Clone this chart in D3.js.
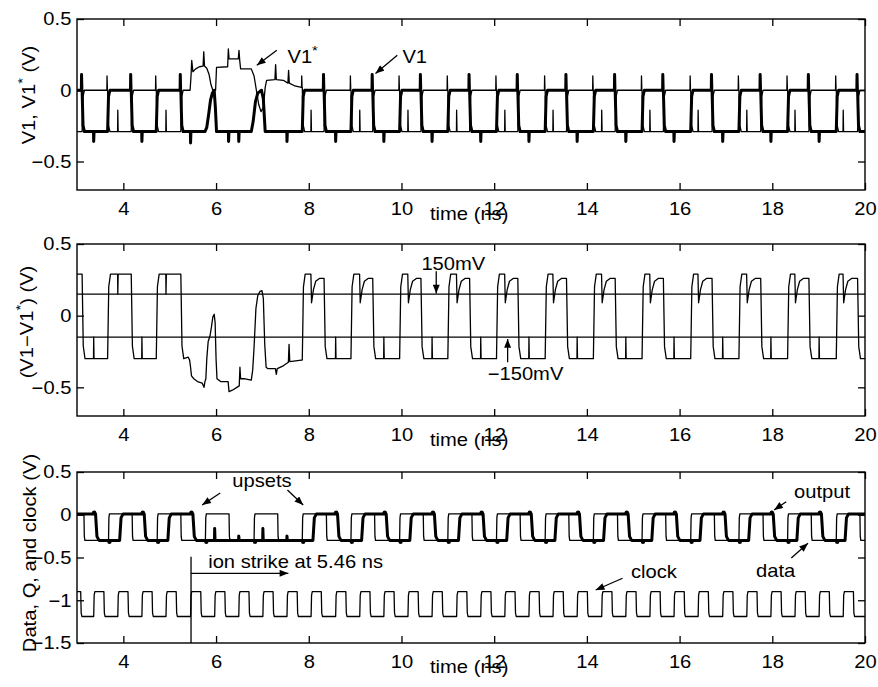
<!DOCTYPE html>
<html lang="en">
<head>
<meta charset="UTF-8">
<title>Ion strike upset waveforms</title>
<script src="https://d3js.org/d3.v7.min.js"></script>
<style>
  body { margin: 0; background: #fff; }
  svg { display: block; font-family: "Liberation Sans", Arial, sans-serif; }
  .frame { fill: none; stroke: #000; stroke-width: 1.4; }
  .tick line { stroke: #000; stroke-width: 1.3; }
  .tick text { font-family: "Liberation Sans", Arial, sans-serif; font-size: 18px; fill: #000; }
  .trace { fill: none; stroke: #000; stroke-linejoin: round; }
  .thin { stroke-width: 1.3; }
  .thick { stroke-width: 3; }
  .note { font-size: 18px; fill: #000; }
  .pointer { stroke: #000; stroke-width: 1.3; }
</style>
</head>
<body>
<svg id="chart" width="878" height="687"></svg>
<script>
// axis ticks
const timeTicks = [4, 6, 8, 10, 12, 14, 16, 18, 20];
const voltTicks = [-0.5, 0, 0.5];
const stackTicks = [-1.5, -1, -0.5, 0, 0.5];
const thresholds = [0.15, -0.15];

// clock edges (ns)
const clockRise = [3.36, 3.88, 4.40, 4.92, 5.45, 5.97, 6.49, 7.01, 7.53, 8.05, 8.58, 9.10, 9.62, 10.14, 10.66, 11.19,
  11.71, 12.23, 12.75, 13.27, 13.79, 14.32, 14.84, 15.36, 15.88, 16.40, 16.93, 17.45, 17.97, 18.49, 19.01, 19.53];
const clockFall = [3.08, 3.58, 4.10, 4.62, 5.14, 5.67, 6.19, 6.71, 7.23, 7.75, 8.27, 8.80, 9.32, 9.84, 10.36, 10.88,
  11.41, 11.93, 12.45, 12.97, 13.49, 14.01, 14.54, 15.06, 15.58, 16.10, 16.62, 17.15, 17.67, 18.19, 18.71, 19.23, 19.75];

// data input edges
const dataRise = [3.68, 4.73, 5.77, 6.82, 7.86, 8.91, 9.96, 11.00, 12.05, 13.10, 14.14, 15.19, 16.24, 17.28, 18.33, 19.38];
const dataFall = [3.15, 4.19, 5.24, 6.28, 7.33, 8.38, 9.42, 10.47, 11.52, 12.56, 13.61, 14.66, 15.70, 16.75, 17.80, 18.84, 19.89];

// output Q edges (stuck low after the strike)
const qRise = [3.92, 4.96, 8.09, 9.14, 10.18, 11.23, 12.27, 13.31, 14.36, 15.40, 16.44, 17.49, 18.53, 19.57];
const qFall = [3.40, 4.45, 5.50, 8.62, 9.67, 10.71, 11.76, 12.80, 13.84, 14.89, 15.93, 16.98, 18.02, 19.06];
const qUpsetSpikes = [[5.97, -0.16], [6.49, -0.25], [7.01, -0.16], [7.53, -0.25]];

// master latch V1 / V1* edges outside the upset
const latchRise = [3.66, 4.71, 7.86, 8.91, 9.96, 11.00, 12.05, 13.10, 14.14, 15.19, 16.24, 17.28, 18.33, 19.38];
const latchFall = [3.11, 4.17, 5.24, 8.33, 9.38, 10.42, 11.47, 12.51, 13.56, 14.61, 15.65, 16.70, 17.75, 18.79, 19.84];
const upsetWindow = [5.3, 7.85];

// waveforms during the upset [t, V]
const v1Upset = [[5.76, -0.29], [5.80, -0.26], [5.84, -0.17], [5.88, -0.07], [5.92, -0.02], [5.96, 0.0], [5.985, -0.12],
  [6.01, -0.29], [6.76, -0.29], [6.80, -0.22], [6.85, -0.08], [6.90, -0.02], [6.98, 0.0], [7.02, -0.06], [7.06, -0.29]];
const v1UpsetSpikes = [[5.45, -0.37], [6.27, -0.36], [6.49, -0.36], [7.53, -0.36]];
const v1sUpset = [[5.44, 0.0], [5.46, 0.10], [5.475, 0.21], [5.50, 0.13], [5.56, 0.15], [5.64, 0.165], [5.72, 0.17],
  [5.735, 0.27], [5.75, 0.17], [5.80, 0.155], [5.85, 0.11], [5.89, 0.04], [5.93, 0.0], [5.99, 0.0], [6.01, 0.16],
  [6.25, 0.165], [6.265, 0.29], [6.28, 0.22], [6.48, 0.22], [6.495, 0.28], [6.51, 0.21], [6.53, 0.15], [6.76, 0.15],
  [6.82, 0.10], [6.87, 0.0], [6.92, -0.10], [6.97, -0.15], [7.02, -0.12], [7.06, 0.02], [7.09, 0.07], [7.27, 0.075],
  [7.285, 0.18], [7.30, 0.075], [7.45, 0.07], [7.55, 0.05], [7.565, 0.14], [7.58, 0.05], [7.70, 0.03], [7.84, 0.02]];
const diffUpset = [[5.40, -0.29], [5.43, -0.31], [5.45, -0.36], [5.47, -0.42], [5.52, -0.44], [5.60, -0.46], [5.70, -0.47],
  [5.74, -0.50], [5.76, -0.46], [5.78, -0.44], [5.80, -0.30], [5.83, -0.18], [5.87, -0.14], [5.90, -0.08], [5.93, -0.01],
  [5.96, 0.01], [5.98, -0.05], [6.00, -0.30], [6.02, -0.44], [6.10, -0.46], [6.26, -0.46], [6.28, -0.53], [6.35, -0.52],
  [6.45, -0.50], [6.50, -0.49], [6.515, -0.36], [6.53, -0.44], [6.60, -0.44], [6.76, -0.45], [6.79, -0.38], [6.82, -0.22],
  [6.86, 0.05], [6.90, 0.14], [6.95, 0.17], [6.99, 0.175], [7.02, 0.12], [7.05, -0.20], [7.08, -0.36], [7.12, -0.37],
  [7.28, -0.37], [7.30, -0.41], [7.32, -0.37], [7.45, -0.35], [7.56, -0.325], [7.575, -0.20], [7.59, -0.32], [7.84, -0.31]];

const svg = d3.select("#chart");
const defs = svg.append("defs");
const x = d3.scaleLinear().domain([3, 20]).range([77, 865]);
const SX = "scale(1.12,1)";

defs.append("marker").attr("id", "ah")
  .attr("viewBox", "0 0 10 8").attr("refX", 10).attr("refY", 4)
  .attr("markerWidth", 10).attr("markerHeight", 7)
  .attr("markerUnits", "userSpaceOnUse").attr("orient", "auto")
  .append("path").attr("d", "M0,0L10,4L0,8Z").attr("fill", "#000");

// event helpers
const steps = (times, v) => times.map(t => ({t, v, kind: "step"}));
const spikes = (times, v, shift = 0) => times.map(t => ({t: t + shift, v, kind: "spike"}));
const dips = (times, v) => times.map(t => ({t, v, kind: "dip"}));
const pairs = (arr, kind) => arr.map(([t, v]) => ({t, v, kind}));

function buildTrace(start, ramp, events) {
  const ev = events.flat().sort((a, b) => a.t - b.t);
  let cur = start;
  const pts = [[x.domain()[0], start]];
  ev.forEach(e => {
    if (e.kind === "step") {
      pts.push([e.t, cur], [e.t + ramp, cur + 0.85 * (e.v - cur)], [e.t + 2.5 * ramp, e.v]);
      cur = e.v;
    } else if (e.kind === "spike") {
      pts.push([e.t - 0.004, cur], [e.t, e.v], [e.t + 0.008, cur]);
    } else if (e.kind === "dip") {
      pts.push([e.t - 0.004, cur], [e.t + 0.01, e.v], [e.t + 0.05, e.v + 0.45 * (cur - e.v)],
        [e.t + 0.1, e.v + 0.75 * (cur - e.v)], [e.t + 0.18, cur - 0.03]);
      cur = cur - 0.03;
    } else {
      pts.push([e.t, e.v]);
      cur = e.v;
    }
  });
  pts.push([x.domain()[1], cur]);
  return pts;
}

function latchHighAt(t) {
  const r = d3.max(latchRise.filter(e => e <= t)) ?? -Infinity;
  const f = d3.max(latchFall.filter(e => e <= t)) ?? -Infinity;
  return r >= f;
}
const outsideUpset = t => t < upsetWindow[0] || t > upsetWindow[1];
const risesHigh = clockRise.filter(t => outsideUpset(t) && latchHighAt(t));
const risesLow = clockRise.filter(t => outsideUpset(t) && !latchHighAt(t));

function addParts(txt, parts) {
  let raised = false;
  parts.forEach(([s, sup]) => {
    const ts = txt.append("tspan").text(s);
    if (sup) { ts.attr("dy", -8).attr("font-size", 13); raised = true; }
    else if (raised) { ts.attr("dy", 8); raised = false; }
  });
}

function panel(top, bottom, domain, ticks, title, titleY) {
  const y = d3.scaleLinear().domain(domain).range([bottom, top]);
  const id = "clip" + top;
  defs.append("clipPath").attr("id", id).append("rect")
    .attr("x", x.range()[0]).attr("y", top)
    .attr("width", x.range()[1] - x.range()[0]).attr("height", bottom - top);
  const g = svg.append("g");
  const plot = g.append("g").attr("clip-path", `url(#${id})`);

  g.append("g").attr("transform", `translate(0,${bottom})`)
    .call(d3.axisBottom(x).tickValues(timeTicks).tickSize(-7).tickPadding(12).tickFormat(d3.format("d")));
  g.append("g").attr("transform", `translate(0,${top})`)
    .call(d3.axisTop(x).tickValues(timeTicks).tickSize(-7).tickFormat(""));
  g.append("g").attr("transform", `translate(${x.range()[0]},0)`)
    .call(d3.axisLeft(y).tickValues(ticks).tickSize(-7).tickPadding(5).tickFormat(d3.format("~g")));
  g.append("g").attr("transform", `translate(${x.range()[1]},0)`)
    .call(d3.axisRight(y).tickValues(ticks).tickSize(-7).tickFormat(""));
  g.selectAll(".domain").remove();
  g.selectAll(".tick text").attr("transform", SX);

  g.append("rect").attr("class", "frame")
    .attr("x", x.range()[0]).attr("y", top)
    .attr("width", x.range()[1] - x.range()[0]).attr("height", bottom - top);

  g.append("text").attr("class", "note")
    .attr("transform", `translate(430,${bottom + 30}) ${SX}`)
    .text("time (ns)");

  const yt = g.append("text").attr("class", "note").attr("text-anchor", "middle")
    .attr("transform", `translate(${title.x},${titleY}) rotate(-90) ${SX}`);
  addParts(yt, title.parts);

  return {y, g, plot, line: d3.line().x(d => x(d[0])).y(d => y(d[1]))};
}

function draw(p, pts, cls) {
  p.plot.append("path").datum(pts).attr("class", "trace " + cls).attr("d", p.line);
}
function note(p, t, v, parts) {
  const txt = p.g.append("text").attr("class", "note")
    .attr("transform", `translate(${x(t)},${p.y(v)}) ${SX}`);
  addParts(txt, parts);
}
function pointer(p, from, to) {
  p.g.append("line").attr("class", "pointer")
    .attr("x1", x(from[0])).attr("y1", p.y(from[1]))
    .attr("x2", x(to[0])).attr("y2", p.y(to[1]))
    .attr("marker-end", "url(#ah)");
}

/* ---------- top panel: V1 and V1* ---------- */
const p1 = panel(19, 190, [-0.7, 0.5], voltTicks,
  {x: 35, parts: [["V1, V1"], ["*", true], [" (V)"]]}, 95);

draw(p1, buildTrace(-0.29, 0.02, [
  steps(latchRise, -0.29), steps(latchFall, 0), spikes(latchRise, 0.10, -0.012),
  spikes(risesHigh, -0.14), pairs(v1sUpset, "raw")]), "thin");
draw(p1, buildTrace(0, 0.02, [
  steps(latchRise, 0), steps(latchFall, -0.29), spikes(latchFall, 0.11, -0.012),
  spikes(risesLow, -0.36), pairs(v1Upset, "raw"), pairs(v1UpsetSpikes, "spike")]), "thick");

note(p1, 7.54, 0.19, [["V1"], ["*", true]]);
pointer(p1, [7.31, 0.28], [6.88, 0.176]);
note(p1, 10.02, 0.19, [["V1"]]);
pointer(p1, [9.91, 0.246], [9.44, 0.118]);

/* ---------- middle panel: V1 - V1* ---------- */
const p2 = panel(244, 416, [-0.7, 0.5], voltTicks,
  {x: 33, parts: [["(V1\u2212V1"], ["*", true], [") (V)"]]}, 322);

thresholds.forEach(v => {
  p2.plot.append("path").datum([[3, v], [20, v]]).attr("class", "trace thin").attr("d", p2.line);
});
draw(p2, buildTrace(0.29, 0.025, [
  steps(latchRise, 0.29), steps(latchFall, -0.30), spikes(risesLow, -0.15),
  spikes(risesHigh.filter(t => t < upsetWindow[0]), 0.15),
  dips(risesHigh.filter(t => t > upsetWindow[1]), 0.09), pairs(diffUpset, "raw")]), "thin");

note(p2, 10.43, 0.32, [["150mV"]]);
pointer(p2, [10.75, 0.31], [10.75, 0.155]);
note(p2, 11.86, -0.45, [["\u2212150mV"]]);
pointer(p2, [12.29, -0.325], [12.29, -0.163]);

/* ---------- bottom panel: data, Q and clock ---------- */
const p3 = panel(472, 643, [-1.5, 0.5], stackTicks,
  {x: 36, parts: [["Data, Q, and clock (V)"]]}, 553);

draw(p3, buildTrace(0.01, 0.008, [steps(dataRise, 0.01), steps(dataFall, -0.30)]), "thin");
draw(p3, buildTrace(-0.9, 0.01, [steps(clockRise, -0.9), steps(clockFall, -1.19)]), "thin");
draw(p3, buildTrace(0.01, 0.03, [
  steps(qRise, 0.01), steps(qFall, -0.30), pairs(qUpsetSpikes, "spike")]), "thick");

const qDots = dataRise.map(t => [t + 0.02, -0.315]).concat(qFall.map(t => [t - 0.03, 0.025]));
p3.plot.selectAll("circle.dot").data(qDots).join("circle")
  .attr("class", "dot").attr("cx", d => x(d[0])).attr("cy", d => p3.y(d[1])).attr("r", 2.2);

// ion strike marker
p3.g.append("line").attr("class", "pointer")
  .attr("x1", x(5.46)).attr("x2", x(5.46)).attr("y1", p3.y(-1.5)).attr("y2", p3.y(-0.49));
pointer(p3, [5.46, -0.685], [7.56, -0.685]);
note(p3, 5.83, -0.623, [["ion strike at 5.46 ns"]]);

note(p3, 6.35, 0.325, [["upsets"]]);
pointer(p3, [6.09, 0.254], [5.70, 0.114]);
pointer(p3, [7.54, 0.29], [7.88, 0.114]);
note(p3, 18.47, 0.196, [["output"]]);
pointer(p3, [18.30, 0.153], [18.04, 0.056]);
note(p3, 17.65, -0.728, [["data"]]);
pointer(p3, [18.41, -0.506], [18.77, -0.334]);
note(p3, 14.95, -0.74, [["clock"]]);
pointer(p3, [14.77, -0.743], [14.19, -0.88]);
</script>
</body>
</html>
